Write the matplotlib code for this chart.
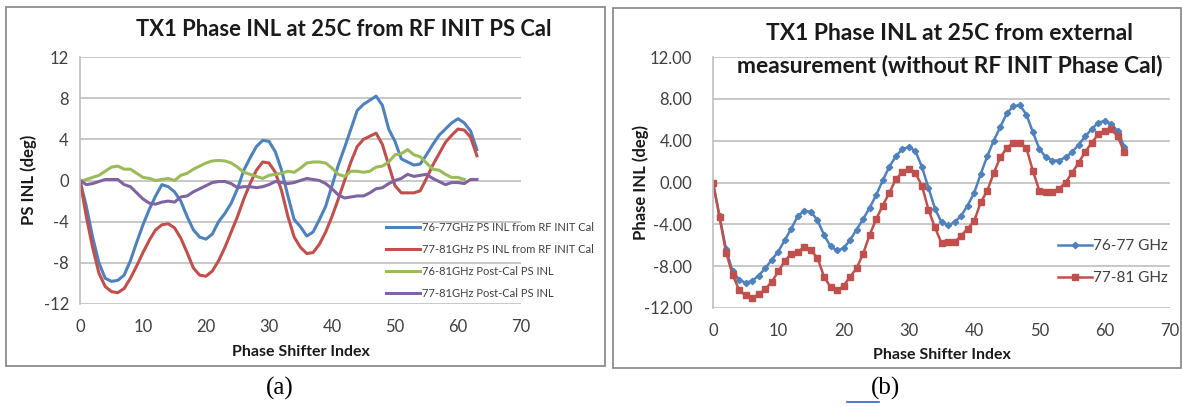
import matplotlib
matplotlib.use("Agg")
import matplotlib.pyplot as plt
from matplotlib.patches import Rectangle
from matplotlib.lines import Line2D

plt.rcParams['font.family'] = ['Lato', 'DejaVu Sans']

# ---- panel (a) data: RF INIT PS Cal ----
idx_a = list(range(64))
blue_a = [0, -2.5, -5.5, -8, -9.5, -9.8, -9.7, -9.2, -7.8, -6, -4.3, -2.8, -1.5, -0.4, -0.6, -1.1,
          -2, -3.5, -4.8, -5.5, -5.7, -5.2, -4, -3.2, -2.2, -0.8, 1, 2.2, 3.3, 3.9, 3.8, 2.8,
          1, -1.5, -3.8, -4.5, -5.4, -5, -3.8, -2.5, -0.5, 1.5, 3.2, 5, 6.8, 7.4, 7.8, 8.2,
          7.3, 5, 3.8, 2.1, 1.8, 1.5, 1.6, 2.5, 3.5, 4.4, 5, 5.6, 6, 5.6, 4.8, 3]
red_a = [0, -3.5, -6.5, -9, -10.3, -10.8, -10.9, -10.5, -9.5, -8.3, -7, -5.8, -4.8, -4.3, -4.2, -4.6,
         -5.6, -7, -8.5, -9.2, -9.3, -8.8, -7.8, -6.5, -5, -3.5, -1.8, -0.3, 1, 1.8, 1.7, 0.8,
         -1, -3.5, -5.5, -6.5, -7.1, -7, -6.2, -5, -3.5, -1.8, 0, 1.8, 3.3, 4, 4.3, 4.6,
         3.5, 1.5, -0.5, -1.2, -1.2, -1.2, -1, 0.2, 1.5, 2.6, 3.7, 4.4, 5, 4.9, 4.2, 2.4]
green_a = [-0.1, 0.1, 0.3, 0.5, 0.9, 1.3, 1.4, 1.1, 1.1, 0.7, 0.3, 0.2, 0, 0.1, 0.2, 0,
           0.5, 0.7, 1.1, 1.4, 1.7, 1.9, 1.95, 1.9, 1.7, 1.3, 0.8, 0.6, 0.4, 0.2, 0.5, 0.6,
           0.7, 0.9, 0.8, 1.2, 1.7, 1.8, 1.8, 1.7, 1.2, 0.6, 0.4, 0.9, 0.9, 0.8, 0.9, 1.3,
           1.4, 1.8, 2.5, 2.6, 3, 2.5, 2.3, 1.7, 1.1, 1, 0.6, 0.3, 0.3, 0.1]
purple_a = [0, -0.4, -0.3, -0.1, 0.1, 0.1, 0.1, -0.4, -0.6, -1.2, -1.8, -2.2, -2.3, -2.1, -2, -2.1,
            -1.6, -1.5, -1.1, -0.8, -0.5, -0.2, -0.1, -0.1, -0.3, -0.7, -0.6, -0.6, -0.7, -0.6, -0.4, -0.1,
            -0.2, -0.3, -0.2, 0, 0.2, 0.1, 0, -0.3, -0.8, -1.4, -1.7, -1.6, -1.5, -1.5, -1.2, -0.8,
            -0.7, -0.3, 0, 0.2, 0.6, 0.4, 0.5, 0.6, 0.2, -0.1, -0.4, -0.2, -0.2, -0.3, 0.1, 0.1]
labels_a = ['76-77GHz PS INL from RF INIT Cal', '77-81GHz PS INL from RF INIT Cal',
            '76-81GHz Post-Cal PS INL', '77-81GHz Post-Cal PS INL']

# ---- panel (b) data: external measurement ----
idx_b = list(range(64))
blue_b = [0, -3.2, -6.4, -8.5, -9.3, -9.6, -9.4, -8.9, -8.2, -7.4, -6.6, -5.5, -4.4, -3.2, -2.7, -2.8,
          -3.6, -5, -6.1, -6.5, -6.3, -5.5, -4.5, -3.5, -2.4, -1.2, 0.2, 1.5, 2.5, 3.2, 3.4, 3,
          1.5, -0.5, -2.5, -3.8, -4.1, -3.8, -3.2, -2.2, -1, 0.8, 2.5, 4, 5.3, 6.6, 7.3, 7.4,
          6.5, 4.8, 3.2, 2.4, 2.1, 2.1, 2.4, 2.9, 3.6, 4.4, 5.1, 5.7, 5.9, 5.6, 4.9, 3.4]
red_b = [0, -3.3, -6.7, -8.8, -10.3, -10.8, -11, -10.7, -10.2, -9.5, -8.5, -7.5, -6.8, -6.6, -6.2, -6.5,
         -7.2, -9, -10, -10.3, -9.9, -9, -8.2, -6.8, -5, -3.5, -2.2, -1, 0.3, 1, 1.3, 0.9,
         -0.3, -2.6, -4.3, -5.8, -5.7, -5.7, -5.1, -4.4, -3.7, -1.9, -0.8, 0.9, 2.4, 3.3, 3.8, 3.8,
         3.3, 1.1, -0.8, -0.9, -0.9, -0.6, 0, 0.9, 1.9, 2.9, 3.8, 4.6, 4.9, 5.1, 4.4, 2.9]
labels_b = ['76-77 GHz', '77-81 GHz']

yticks = [-12, -8, -4, 0, 4, 8, 12]
xticks = [0, 10, 20, 30, 40, 50, 60, 70]

BLUE = '#4F81BD'
RED = '#C0504D'
GREEN = '#9BBB59'
PURPLE = '#8064A2'
GRID = '#BFBFBF'
TXT = '#404040'

W, H = 1182, 407
fig = plt.figure(figsize=(W / 100, H / 100), dpi=100)


def px(x0, y0, x1, y1):
    # pixel box -> figure fraction [left, bottom, width, height]
    return [x0 / W, 1 - y1 / H, (x1 - x0) / W, (y1 - y0) / H]


def style(ax, fmt):
    ax.set_xlim(0, 70)
    ax.set_ylim(-12, 12)
    ax.set_xticks(xticks)
    ax.set_yticks(yticks)
    ax.set_yticklabels([fmt(v) for v in yticks])
    ax.grid(axis='y', color=GRID, lw=1.2)
    ax.set_axisbelow(True)
    for s in ['top', 'right', 'bottom']:
        ax.spines[s].set_visible(False)
    ax.spines['left'].set_color(GRID)
    ax.spines['left'].set_linewidth(1.2)
    ax.tick_params(length=0, labelsize=12, labelcolor=TXT)
    ax.tick_params(axis='x', pad=11)


# panel borders
for box in [(6, 7, 605, 366), (613, 8, 1181, 368)]:
    fig.patches.append(Rectangle((box[0] / W, 1 - box[3] / H), (box[2] - box[0]) / W,
                                 (box[3] - box[1]) / H, transform=fig.transFigure,
                                 fill=False, ec='#8C8C8C', lw=1.3))

# ---- (a) ----
ax1 = fig.add_axes(px(80, 57, 521, 304))
style(ax1, lambda v: str(v))
ax1.tick_params(axis='y', pad=8)
for ys, c in zip([blue_a, red_a, green_a, purple_a], [BLUE, RED, GREEN, PURPLE]):
    ax1.plot(idx_a[:len(ys)], ys, color=c, lw=2.2, solid_joinstyle='round')
fig.text(344 / W, 1 - 30 / H, 'TX1 Phase INL at 25C from RF INIT PS Cal', ha='center', va='center',
         fontsize=15.8, fontweight='bold', color='#1a1a1a')
fig.text(29 / W, 1 - 180 / H, 'PS INL (deg)', rotation=90, ha='center', va='center',
         fontsize=12, fontweight='bold', color='#1a1a1a')
fig.text(301 / W, 1 - 352 / H, 'Phase Shifter Index', ha='center', va='center',
         fontsize=11.5, fontweight='bold', color='#1a1a1a')
h_a = [Line2D([], [], color=c, lw=2.2) for c in [BLUE, RED, GREEN, PURPLE]]
fig.legend(h_a, labels_a, loc='upper left', bbox_to_anchor=(386 / W, 1 - 222 / H), frameon=False,
           fontsize=8, handlelength=3.1, handletextpad=0.1, labelspacing=1.0, borderpad=0,
           borderaxespad=0, labelcolor=TXT)

# ---- (b) ----
ax2 = fig.add_axes(px(713, 57, 1170, 308))
style(ax2, lambda v: '%.2f' % v)
ax2.tick_params(axis='y', pad=15)
ax2.plot(idx_b, blue_b, color=BLUE, lw=1.8, marker='D', ms=3.2, label=labels_b[0])
ax2.plot(idx_b, red_b, color=RED, lw=1.8, marker='s', ms=5, label=labels_b[1])
fig.text(949 / W, 1 - 33 / H, 'TX1 Phase INL at 25C from external', ha='center', va='center',
         fontsize=16.5, fontweight='bold', color='#1a1a1a')
fig.text(950 / W, 1 - 65 / H, 'measurement (without RF INIT Phase Cal)', ha='center', va='center',
         fontsize=16.5, fontweight='bold', color='#1a1a1a')
fig.text(641 / W, 1 - 182 / H, 'Phase INL (deg)', rotation=90, ha='center', va='center',
         fontsize=12, fontweight='bold', color='#1a1a1a')
fig.text(942 / W, 1 - 355 / H, 'Phase Shifter Index', ha='center', va='center',
         fontsize=11.5, fontweight='bold', color='#1a1a1a')
fig.legend(*ax2.get_legend_handles_labels(), loc='upper left', bbox_to_anchor=(1058 / W, 1 - 239 / H),
           frameon=False, fontsize=11, handlelength=2.2, handletextpad=0.1, labelspacing=1.2,
           borderpad=0, borderaxespad=0, labelcolor=TXT)

# captions
fig.text(280 / W, 1 - 388 / H, '(a)', ha='center', va='center', fontsize=18,
         family='Liberation Serif')
fig.text(886 / W, 1 - 388 / H, '(b)', ha='center', va='center', fontsize=18,
         family='Liberation Serif')
fig.add_artist(Line2D([847 / W, 879 / W], [1 - 402 / H, 1 - 402 / H], transform=fig.transFigure,
                      color='#2E64D0', lw=1.2))

fig.savefig('out.png', dpi=100)
